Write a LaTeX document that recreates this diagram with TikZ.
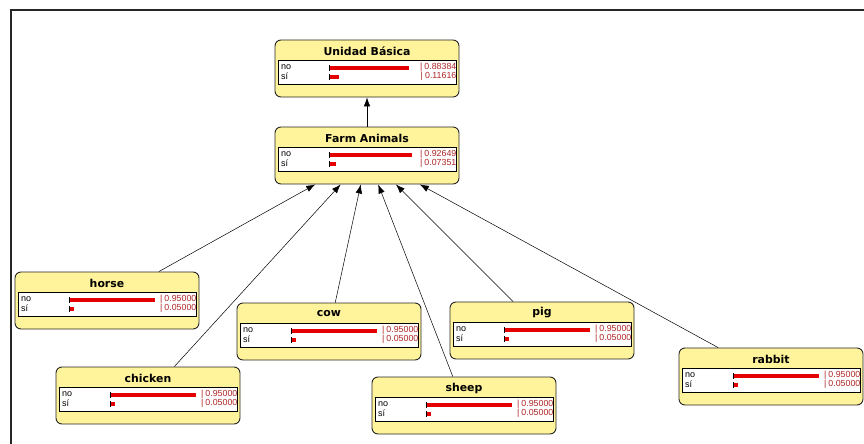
\documentclass[tikz,border=0pt]{standalone}
\usepackage{fontspec}
\setmainfont{Liberation Sans}
\newfontfamily\headfont{DejaVu Sans}
\usetikzlibrary{arrows.meta}

\definecolor{nodefill}{RGB}{255,243,155}
\definecolor{barred}{RGB}{228,0,0}
\definecolor{valred}{RGB}{176,36,36}

\tikzset{
  varbox/.style={draw=black!85, line width=0.9pt, fill=nodefill,
    rounded corners=6pt, minimum width=184pt, minimum height=57pt, inner sep=0pt},
  titletext/.style={font=\headfont\bfseries\fontsize{10.9}{12}\selectfont, inner sep=0pt},
  statetext/.style={font=\fontsize{9}{10}\selectfont, anchor=west, inner sep=0pt},
  valtext/.style={font=\fontsize{8.8}{10}\selectfont, text=valred, anchor=east, inner sep=0pt},
  statebox/.style={fill=white, draw=black, line width=0.6pt},
  link/.style={draw=black, line width=0.5pt, -{Latex[length=9pt,width=6.5pt]}},
  frameline/.style={draw=black!85, line width=1.6pt},
}

% #1 name, #2 left, #3 top, #4 title, #5 P(no), #6 P(si)
\newcommand\bnvar[6]{%
  \node[varbox] (#1) at ({#2+92},{#3+28.5}) {};
  \begin{scope}[shift={(#2,#3)}]
    \node[titletext] (#1-t) at (92,11) {#4};
    \draw[statebox] (3,20) rectangle (181,44);
    \node[statetext] (#1-no) at (6,27.5) {no};
    \node[statetext] (#1-si) at (6,36.5) {sí};
    \fill[barred] (54,26) rectangle ({54+#5*90},30);
    \fill[barred] (54,35) rectangle ({54+#6*90},39);
    \draw[black, line width=0.6pt] (54,25) -- (54,31) (54,34) -- (54,40);
    \node[valtext] (#1-pno) at (181.5,27.5) {|\hspace{2.2pt}#5};
    \node[valtext] (#1-psi) at (181.5,36.5) {|\hspace{2.2pt}#6};
  \end{scope}}

\begin{document}
\begin{tikzpicture}[x=1pt,y=-1pt]
  \useasboundingbox (0,0) rectangle (864,444);
  \fill[white] (0,0) rectangle (864,444);
  % window frame
  \draw[frameline] (11,444) -- (11,10) -- (864,10);

  \bnvar{unidad}{275}{40}{Unidad Básica}{0.88384}{0.11616}
  \bnvar{farm}{275}{127}{Farm Animals}{0.92649}{0.07351}
  \bnvar{horse}{15}{272}{horse}{0.95000}{0.05000}
  \bnvar{cow}{237}{303}{cow}{0.95000}{0.05000}
  \bnvar{pig}{450}{302}{pig}{0.95000}{0.05000}
  \bnvar{chicken}{56}{367}{chicken}{0.95000}{0.05000}
  \bnvar{sheep}{372}{377}{sheep}{0.95000}{0.05000}
  \bnvar{rabbit}{679}{348}{rabbit}{0.95000}{0.05000}

  \draw[link] (farm) -- (unidad);
  \draw[link] (horse) -- (farm);
  \draw[link] (chicken) -- (farm);
  \draw[link] (cow) -- (farm);
  \draw[link] (sheep) -- (farm);
  \draw[link] (pig) -- (farm);
  \draw[link] (rabbit) -- (farm);
\end{tikzpicture}
\end{document}
